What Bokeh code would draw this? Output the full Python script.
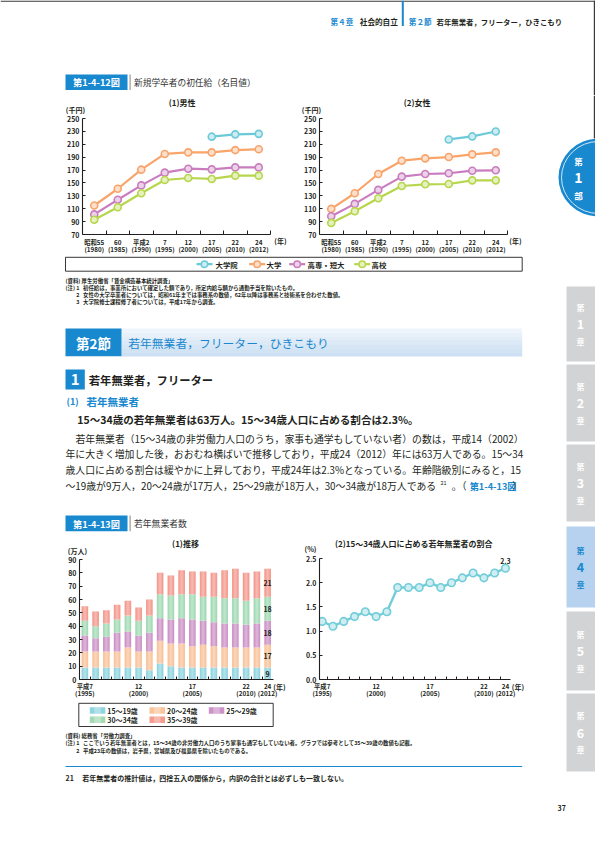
import math
from bokeh.plotting import figure
from bokeh.models import Range1d, FixedTicker, ColumnDataSource
from bokeh.layouts import column, row
from bokeh.core.properties import value
from bokeh.embed import file_html
from bokeh.resources import INLINE

JP = "Noto Sans CJK JP"
INK = "#231f20"
BLUE = "#1888cf"
NA = float("nan")

# ---------------- Fig 1-4-12 : starting salaries (thousand yen) ----------------
periods = ["昭和55\n(1980)", "60\n(1985)", "平成2\n(1990)", "7\n(1995)",
           "12\n(2000)", "17\n(2005)", "22\n(2010)", "24\n(2012)"]
school_names = ["大学院", "大学", "高専・短大", "高校"]
school_colors = ["#6ccad8", "#f8a46a", "#c97dbe", "#b7d64c"]
grad_m = [NA, NA, NA, NA, NA, 221.8, 225.4, 226.2]
univ_m = [115.0, 141.0, 170.6, 195.0, 197.4, 197.4, 201.0, 202.4]
tech_m = [101.2, 124.0, 146.2, 166.0, 172.1, 171.1, 174.1, 174.1]
high_m = [93.0, 112.3, 134.0, 154.6, 157.7, 156.2, 161.3, 161.3]
grad_f = [NA, NA, NA, NA, NA, 217.5, 222.2, 229.9]
univ_f = [109.7, 134.0, 163.9, 184.5, 188.1, 190.2, 194.3, 197.4]
tech_f = [98.4, 117.5, 139.2, 159.8, 163.9, 165.0, 169.0, 169.6]
high_f = [88.0, 106.0, 126.2, 145.3, 147.9, 148.4, 154.0, 154.0]
salary_ticks = [70, 90, 110, 130, 150, 170, 190, 210, 230, 250]

# ---------------- Fig 1-4-13 : youth not in employment (10 thousand) ----------------
years = [1995, 1996, 1997, 1998, 1999, 2000, 2001, 2002, 2003,
         2004, 2005, 2006, 2007, 2008, 2009, 2010, 2011, 2012]
year_ticks = [1995, 2000, 2005, 2010, 2012]
year_tick_labels = ["平成7\n(1995)", "12\n(2000)", "17\n(2005)", "22\n(2010)", "24\n(2012)"]
age_groups = ["15～19歳", "20～24歳", "25～29歳", "30～34歳", "35～39歳"]
age_colors = ["#8fd4e0", "#fac39a", "#cd93c8", "#a2dab4", "#f49a8e"]
a15_19 = [9, 9, 9, 9, 9, 9, 7, 12, 10, 9, 9, 9, 9, 9, 9, 9, 9, 9]
a20_24 = [12, 12, 12, 12, 15, 12, 14, 17, 17, 18, 16, 17, 16, 15, 15, 15, 15, 17]
a25_29 = [12, 10, 11, 14, 12, 12, 14, 17, 18, 19, 20, 18, 18, 18, 18, 17, 18, 18]
a30_34 = [11, 9, 10, 10, 12, 11, 13, 18, 18, 18, 19, 18, 19, 19, 19, 18, 19, 18]
a35_39 = [11, 11, 10, 11, 11, 10, 12, 16, 15, 18, 17, 19, 18, 21, 22, 21, 20, 21]
count_ticks = [0, 10, 20, 30, 40, 50, 60, 70, 80, 90]
ratio = [1.2, 1.1, 1.2, 1.3, 1.4, 1.3, 1.4, 1.9, 1.9, 1.9, 2.0, 1.9, 2.0, 2.1, 2.2, 2.1, 2.2, 2.3]
ratio_ticks = [0.0, 0.5, 1.0, 1.5, 2.0, 2.5]
ratio_color = "#72cdd9"


def tint(c, f=0.6):
    r, g, b = int(c[1:3], 16), int(c[3:5], 16), int(c[5:7], 16)
    return "#%02x%02x%02x" % (round(r + (255 - r) * f), round(g + (255 - g) * f), round(b + (255 - b) * f))


class Blk:
    """A plain drawing panel whose coordinates are page pixels."""
    def __init__(self, ox, oy, w, h, clear=False):
        self.ox, self.oy = ox, oy
        p = figure(width=w, height=h, x_range=Range1d(0, w), y_range=Range1d(h, 0),
                   output_backend="svg", toolbar_location=None,
                   x_axis_location=None, y_axis_location=None, min_border=0,
                   outline_line_color=None)
        p.grid.visible = False
        if clear:
            p.background_fill_color = None
            p.border_fill_color = None
        self.p = p

    def text(self, x, y, s, size, color=INK, bold=False, align="left"):
        self.p.text(x=[x - self.ox], y=[y - self.oy], text=[s], text_font=value(JP),
                    text_font_size=f"{size}px", text_font_style="bold" if bold else "normal",
                    text_color=color, text_align=align, text_baseline="middle")

    def rect(self, x0, y0, x1, y1, fill, line=None, lw=1.0, alpha=1.0):
        self.p.quad(left=[x0 - self.ox], right=[x1 - self.ox], top=[y0 - self.oy],
                    bottom=[y1 - self.oy], fill_color=fill, fill_alpha=alpha,
                    line_color=line, line_width=lw)

    def line(self, xs, ys, color, lw):
        self.p.line([x - self.ox for x in xs], [y - self.oy for y in ys],
                    line_color=color, line_width=lw)

    def dot(self, x, y, size, fill, line, lw=1.2):
        self.p.scatter([x - self.ox], [y - self.oy], marker="circle", size=size,
                       fill_color=fill, line_color=line, line_width=lw)

    def ellipse(self, x, y, w, h, fill, line=None, lw=1.0):
        self.p.ellipse(x=[x - self.ox], y=[y - self.oy], width=w, height=h,
                       fill_color=fill, line_color=line, line_width=lw)


FB = 50  # generous bottom border so the frame position is fixed


def make_chart(w, frame_top, frame_h, fl, x0, ppx, y0, ppy):
    h = frame_top + frame_h + FB
    xr = Range1d(x0, x0 + (w - fl) / ppx)
    yr = Range1d(y0, y0 + frame_h / ppy)
    p = figure(width=w, height=h, x_range=xr, y_range=yr, output_backend="svg",
               toolbar_location=None, min_border_left=fl, min_border_right=0,
               min_border_top=frame_top, min_border_bottom=FB, outline_line_color=None)
    p.xgrid.visible = False
    p.ygrid.visible = False
    return p


def style_axis(ax, ticks, minor, labels, bounds, tick_in, minor_in, size="6.5px", standoff=3):
    ax.ticker = FixedTicker(ticks=ticks, minor_ticks=minor)
    ax.bounds = bounds
    ax.axis_line_color = INK
    ax.axis_line_width = 1.1
    ax.major_tick_line_color = INK
    ax.minor_tick_line_color = INK
    ax.major_tick_in = tick_in
    ax.major_tick_out = 0
    ax.minor_tick_in = minor_in
    ax.minor_tick_out = 0
    ax.major_label_text_font = JP
    ax.major_label_text_font_size = size
    ax.major_label_text_font_style = "bold"
    ax.major_label_text_color = INK
    ax.major_label_text_line_height = 0.85
    ax.major_label_standoff = standoff
    if labels:
        ax.major_label_overrides = labels


# ---------------- salary charts (page frame: y 118..234) ----------------
def salary_chart(w, fl, series):
    p = make_chart(w, 4, 116, fl, 0, 23.5, 70, 116 / 180)
    xs = [i + 0.5 for i in range(len(periods))]
    for vals, col in zip(series, school_colors):
        p.line(xs, vals, line_color=col, line_width=2.2)
        p.scatter(xs, vals, marker="circle", size=7, fill_color=tint(col, 0.65),
                  line_color=col, line_width=1.6)
    style_axis(p.xaxis[0], xs, list(range(1, len(periods) + 1)), dict(zip(xs, periods)),
               (0, len(periods)), 0, 4, "6.3px", 3)
    style_axis(p.yaxis[0], salary_ticks, [], {t: str(t) for t in salary_ticks},
               (70, 250), 3, 0, "7px")
    return p


p1 = salary_chart(290, 82, [grad_m, univ_m, tech_m, high_m])
p2 = salary_chart(260, 29, [grad_f, univ_f, tech_f, high_f])

# ---------------- stacked bar chart (page frame: y 555..679) ----------------
p3 = make_chart(285, 0, 124, 79, 0, 10.75, 0, 120 / 90)
bx = [i + 0.5 for i in range(len(years))]
keys = ["a15", "a20", "a25", "a30", "a35"]
groups = [a15_19, a20_24, a25_29, a30_34, a35_39]
src = ColumnDataSource(dict(x=bx, a15=a15_19, a20=a20_24, a25=a25_29, a30=a30_34, a35=a35_39))
p3.vbar_stack(keys, x="x", width=0.62, color=age_colors, source=src, line_color=None)
totals = [sum(g[i] for g in groups) for i in range(len(years))]
p3.vbar(x=bx, top=totals, bottom=0, width=0.38, fill_color="white", fill_alpha=0.16, line_color=None)
p3.vbar(x=bx, top=totals, bottom=0, width=0.18, fill_color="white", fill_alpha=0.16, line_color=None)
last = [g[-1] for g in groups]
mids, acc = [], 0
for v in last:
    mids.append(acc + v / 2)
    acc += v
p3.text(x=[bx[-1]] * len(last), y=mids, text=[str(v) for v in last], text_font=value(JP),
        text_font_size="7px", text_font_style="bold", text_color=INK,
        text_align="center", text_baseline="middle")
style_axis(p3.xaxis[0], [bx[years.index(y)] for y in year_ticks],
           [i for i in range(1, len(years))],
           {bx[years.index(y)]: t for y, t in zip(year_ticks, year_tick_labels)},
           (0, len(years)), 0, 3, "6.3px", 2)
style_axis(p3.yaxis[0], count_ticks, [], {t: str(t) for t in count_ticks}, (0, 90), 3, 0, "7px")

# ---------------- ratio line chart (page frame: y 555..679) ----------------
p4 = make_chart(265, 0, 124, 34, 1994.75, 10.78, 0, 121 / 2.5)
p4.line(years, ratio, line_color=ratio_color, line_width=2.4)
p4.scatter(years, ratio, marker="circle", size=7.5, fill_color=tint(ratio_color, 0.65),
           line_color=ratio_color, line_width=1.6)
p4.text(x=[years[-1]], y=[ratio[-1] + 0.14], text=[f"{ratio[-1]:.1f}"],
        text_font=value(JP), text_font_size="7px", text_font_style="bold",
        text_color=INK, text_align="center", text_baseline="middle")
style_axis(p4.xaxis[0], year_ticks, [y + 0.5 for y in years[:-1]],
           dict(zip(year_ticks, year_tick_labels)), (1994.75, 2012.45), 0, 3, "6.3px", 2)
style_axis(p4.yaxis[0], ratio_ticks, [], {t: f"{t:.1f}" for t in ratio_ticks}, (0, 2.5), 3, 0, "7px")

# ---------------- page header (block A) ----------------
A = Blk(0, 0, 595, 95)
A.rect(0, 0, 595, 1.2, "#3a3a3a")
A.rect(593.3, 0, 595, 95, "#3a3a3a")
A.rect(401.3, 0, 403.3, 25.5, BLUE)
A.text(330, 20.7, "第４章", 7.6, BLUE, True)
A.text(359.3, 20.7, "社会的自立", 7.6, INK, True)
A.text(408.3, 20.7, "第２節", 7.6, BLUE, True)
A.text(436, 20.7, "若年無業者，フリーター，ひきこもり", 7.4, INK, True)
A.rect(65, 74, 127, 89.5, BLUE)
A.text(96, 81.7, "第1-4-12図", 9.2, "white", True, "center")
A.rect(129, 74, 130.2, 89.5, "#9a9a9a")
A.text(133.5, 81.7, "新規学卒者の初任給（名目値）", 8.7, "#333333")

# ---------------- chart titles strip 1 ----------------
T1 = Blk(0, 95, 550, 19)
T1.text(181.7, 102, "(1)男性", 8, INK, True, "center")
T1.text(416.7, 102, "(2)女性", 8, INK, True, "center")
T1.text(75, 109.5, "(千円)", 7, INK, True, "center")
T1.text(311, 109, "(千円)", 7, INK, True, "center")

# ---------------- middle text (block C, transparent, overlaps chart borders) ----------------
C = Blk(0, 236, 550, 297, clear=True)
C.text(280, 240.5, "(年)", 7, INK, True, "center")
C.text(515, 240.5, "(年)", 7, INK, True, "center")
C.rect(65, 256.8, 521.7, 270.7, "white", INK, 0.9)
for name, col, mx, tx in zip(school_names, school_colors,
                             [204, 256.7, 296.7, 361.7], [215, 266, 307, 371]):
    C.line([mx - 8, mx + 8], [263.7, 263.7], col, 2.2)
    C.dot(mx, 263.7, 6.5, tint(col, 0.65), col, 1.5)
    C.text(tx, 263.9, name, 7.4, INK, True)
C.text(65, 280, "(資料) 厚生労働省「賃金構造基本統計調査」", 5.4, INK, True)
C.text(65, 287.3, "(注)", 5.4, INK, True)
C.text(79, 287.3, "1", 5.4, INK, True, "right")
C.text(82.5, 287.3, "初任給は，事業所において確定した額であり，所定内給与額から通勤手当を除いたもの。", 5.4, INK, True)
C.text(79, 294.2, "2", 5.4, INK, True, "right")
C.text(82.5, 294.2, "女性の大学卒業者については，昭和61年までは事務系の数値，62年以降は事務系と技術系を合わせた数値。", 5.4, INK, True)
C.text(79, 301.1, "3", 5.4, INK, True, "right")
C.text(82.5, 301.1, "大学院修士課程修了者については，平成17年から調査。", 5.4, INK, True)

band = ["#eef5fc", "#e8f1fa", "#e2edf8", "#dce9f6", "#d7e6f5", "#d2e3f4", "#cde0f3"]
top, bot = 328, 355.7
step = (bot - top) / len(band)
for i, c in enumerate(band):
    C.rect(121, top + i * step, 521.7, top + (i + 1) * step + 0.3, c)
C.rect(65, 328, 121, 355.7, BLUE)
C.text(93, 342, "第2節", 13.5, "white", True, "center")
C.text(127.7, 342, "若年無業者，フリーター，ひきこもり", 11.8, BLUE)
C.rect(65, 369, 84.3, 389, BLUE)
C.text(74.7, 379, "1", 15, "white", True, "center")
C.text(88.3, 379, "若年無業者，フリーター", 11.3, INK, True)
C.text(66, 401, "(1)", 9, BLUE, True)
C.text(86, 401, "若年無業者", 10.5, BLUE, True)
C.text(76.7, 419.3, "15～34歳の若年無業者は63万人。15～34歳人口に占める割合は2.3%。", 10.55, INK, True)
C.text(75, 438.3, "若年無業者（15～34歳の非労働力人口のうち，家事も通学もしていない者）の数は，平成14（2002）", 9.86)
C.text(65, 453.6, "年に大きく増加した後，おおむね横ばいで推移しており，平成24（2012）年には63万人である。15～34", 9.86)
C.text(65, 469.6, "歳人口に占める割合は緩やかに上昇しており，平成24年は2.3%となっている。年齢階級別にみると，15", 9.86)
C.text(65, 485.7, "～19歳が9万人，20～24歳が17万人，25～29歳が18万人，30～34歳が18万人である", 9.86)
C.text(440, 481.5, "21", 5.5)
C.text(466, 485.7, "。（", 9.86, INK, False, "right")
C.text(516, 485.7, "第1-4-13図", 9.2, BLUE, True, "right")
C.text(521.5, 485.7, "）", 9.86, INK, False, "right")
C.rect(65, 515, 127, 530.7, BLUE)
C.text(96, 523, "第1-4-13図", 9.2, "white", True, "center")
C.rect(129, 515, 130.2, 530.7, "#9a9a9a")
C.text(133.5, 523, "若年無業者数", 8.8, "#333333")

# ---------------- chart titles strip 2 ----------------
T2 = Blk(0, 533, 550, 22)
T2.text(185, 543.3, "(1)推移", 8, INK, True, "center")
T2.text(77, 550.7, "(万人)", 7, INK, True, "center")
T2.text(413.3, 543.3, "(2)15～34歳人口に占める若年無業者の割合", 8, INK, True, "center")
T2.text(310, 548.5, "(%)", 7, INK, True, "center")

# ---------------- lower text (block E, transparent, overlaps chart borders) ----------------
E = Blk(0, 682, 550, 160, clear=True)
E.text(279, 686.5, "(年)", 7, INK, True, "center")
E.text(517.5, 686.5, "(年)", 7, INK, True, "center")
E.rect(78.3, 702.8, 272.7, 726, "white", INK, 0.9)
sw_x = [89.3, 149, 208.3, 89.3, 149]
sw_y = [710, 710, 710, 719.3, 719.3]
for name, col, sx, sy in zip(age_groups, age_colors, sw_x, sw_y):
    E.rect(sx, sy - 3.2, sx + 15.5, sy + 3.2, col)
    E.rect(sx + 4.5, sy - 3.2, sx + 11, sy + 3.2, "white", None, 1.0, 0.3)
    E.text(sx + 17.5, sy + 0.2, name, 7, INK, True)
E.text(65, 735, "(資料) 総務省「労働力調査」", 5.4, INK, True)
E.text(65, 742.7, "(注)", 5.4, INK, True)
E.text(79, 742.7, "1", 5.4, INK, True, "right")
E.text(82.5, 742.7, "ここでいう若年無業者とは，15～34歳の非労働力人口のうち家事も通学もしていない者。グラフでは参考として35～39歳の数値も記載。", 5.4, INK, True)
E.text(79, 750.6, "2", 5.4, INK, True, "right")
E.text(82.5, 750.6, "平成23年の数値は，岩手県，宮城県及び福島県を除いたものである。", 5.4, INK, True)
E.rect(65, 765.5, 521.7, 766.5, BLUE)
E.text(65, 777.3, "21", 7, INK, True)
E.text(81.7, 777.3, "若年無業者の推計値は，四捨五入の関係から，内訳の合計とは必ずしも一致しない。", 7, INK, True)

# ---------------- sidebar ----------------
S = Blk(550, 95, 45, 747)
S.rect(593.3, 95, 595, 138, "#3a3a3a")
S.ellipse(598, 177, 80, 78, BLUE)
S.ellipse(598, 177, 74, 72, None, "white", 0.8)
S.text(578, 160.5, "第", 8.5, "white", True, "center")
S.text(578, 177, "1", 14, "white", True, "center")
S.text(578, 194, "部", 8.5, "white", True, "center")
tabs = [(286, 361), (364, 441), (444, 521), (526, 607), (611, 690), (693, 771)]
for k, (t0, t1) in enumerate(tabs):
    active = (k == 3)
    S.rect(566, t0, 595, t1, "#b7d2ee" if active else "#d2d3d5")
    c = (t0 + t1) / 2
    tc = BLUE if active else "white"
    S.text(580, c - 17, "第", 8, tc, True, "center")
    S.text(580, c, str(k + 1), 12.5, tc, True, "center")
    S.text(580, c + 17, "章", 8, tc, True, "center")
S.text(557, 807, "37", 7, INK, True)

row1 = row(p1, p2, styles={"margin-bottom": f"-{114 + p1.height - 236}px"})
row2 = row(p3, p4, styles={"margin-bottom": f"-{555 + p3.height - 682}px"})
main = column(T1.p, row1, C.p, T2.p, row2, E.p)
layout = column(A.p, row(main, S.p))
open("out.html", "w").write(file_html(layout, INLINE))
